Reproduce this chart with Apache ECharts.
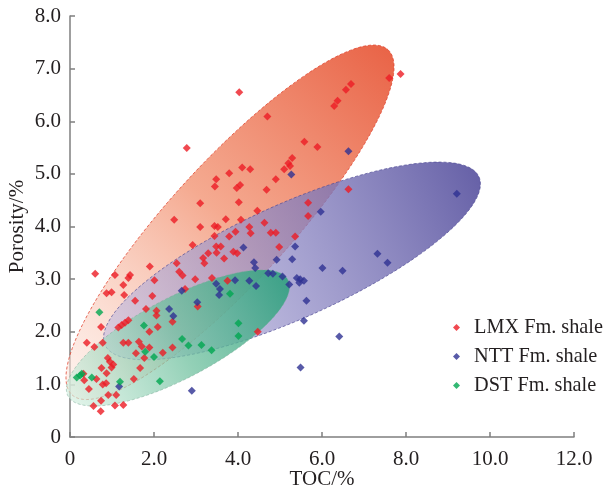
<!DOCTYPE html>
<html>
<head>
<meta charset="utf-8">
<script src="https://cdn.jsdelivr.net/npm/echarts@6/dist/echarts.min.js"></script>
<style>html,body{margin:0;padding:0;background:#fff;}#c{width:607px;height:494px;}</style>
</head>
<body>
<div id="c"></div>
<script>
// ---- data ----
const seriesNames = ['LMX Fm. shale', 'NTT Fm. shale', 'DST Fm. shale'];
const xTickLabels = ['0', '2.0', '4.0', '6.0', '8.0', '10.0', '12.0'];
const yTickLabels = ['0', '1.0', '2.0', '3.0', '4.0', '5.0', '6.0', '7.0', '8.0'];

const lmx = [
  [4.03,6.55],[2.78,5.49],[4.10,5.12],[4.29,5.09],[3.79,5.01],[3.48,4.90],[3.45,4.76],[4.05,4.79],
  [3.97,4.73],[3.10,4.44],[4.02,4.46],[4.46,4.30],[2.48,4.13],[3.71,4.14],[4.07,4.13],[4.70,6.09],
  [5.29,5.30],[5.20,5.20],[5.24,5.15],[5.10,5.09],[4.90,4.90],[4.68,4.70],[4.63,4.07],[3.10,3.99],
  [3.44,4.01],[3.52,3.99],[4.27,3.99],[3.94,3.90],[3.44,3.82],[3.79,3.81],[4.30,3.87],[4.78,3.88],
  [4.90,3.88],[2.92,3.65],[3.48,3.62],[3.59,3.62],[3.89,3.52],[3.98,3.49],[3.49,3.50],[3.29,3.49],
  [5.36,3.81],[3.17,3.40],[3.20,3.30],[3.67,3.39],[2.54,3.30],[2.68,3.07],[2.98,3.00],[3.38,3.02],
  [1.90,3.24],[0.60,3.10],[1.07,3.08],[1.43,3.08],[1.39,3.02],[2.60,3.14],[2.01,2.98],[1.27,2.89],
  [0.87,2.73],[0.99,2.75],[1.29,2.70],[1.55,2.59],[1.96,2.68],[3.75,2.97],[2.74,2.81],[1.81,2.43],
  [2.06,2.40],[2.06,2.31],[2.44,2.19],[3.04,2.48],[1.39,2.22],[1.31,2.17],[1.23,2.13],[1.15,2.08],
  [0.74,2.09],[1.89,2.00],[2.09,2.09],[0.40,1.79],[0.78,1.79],[0.58,1.71],[1.27,1.79],[1.39,1.79],
  [1.64,1.81],[1.71,1.72],[1.89,1.70],[1.57,1.59],[1.77,1.50],[2.21,1.60],[2.44,1.70],[0.90,1.50],
  [0.95,1.43],[1.03,1.38],[0.99,1.32],[0.75,1.31],[1.67,1.31],[0.87,1.21],[0.32,1.20],[0.63,1.10],
  [0.34,1.08],[1.52,1.10],[0.78,1.00],[0.86,1.02],[0.45,0.91],[0.91,0.80],[1.10,0.80],[0.74,0.69],
  [0.56,0.59],[1.07,0.60],[1.27,0.61],[0.73,0.49],[4.98,3.61],[5.67,4.20],[5.67,4.45],[4.47,2.00],
  [7.87,6.90],[7.60,6.82],[6.69,6.71],[6.57,6.60],[6.37,6.39],[6.29,6.29],[5.58,5.61],[5.89,5.51],
  [6.63,4.71]
];
const ntt = [
  [5.27,4.99],[6.63,5.43],[5.97,4.28],[4.13,3.60],[5.36,3.62],[4.38,3.32],[4.41,3.21],[4.92,3.37],
  [5.29,3.38],[4.72,3.11],[4.83,3.10],[5.06,3.05],[2.66,2.78],[3.03,2.56],[2.36,2.43],[2.46,2.30],
  [3.48,2.91],[3.57,2.81],[3.55,2.70],[1.17,0.96],[2.90,0.88],[3.93,2.98],[4.27,2.97],[4.43,2.87],
  [5.40,3.02],[5.48,3.00],[5.57,2.97],[5.46,2.93],[5.22,2.90],[6.01,3.21],[6.49,3.16],[7.32,3.48],
  [5.63,2.59],[5.57,2.21],[6.41,1.91],[7.56,3.31],[5.49,1.32],[9.21,4.62]
];
const dst = [
  [0.70,2.37],[1.76,2.12],[2.67,1.86],[2.82,1.74],[3.13,1.75],[3.37,1.65],[1.79,1.62],[2.00,1.52],
  [0.16,1.13],[0.24,1.17],[0.28,1.20],[0.52,1.13],[1.19,1.05],[2.14,1.06],[3.81,2.72],[4.01,2.16],
  [4.01,1.92]
];
// ellipse: [centerX, centerY, majorHalfX, majorHalfY, minorHalfX, minorHalfY] in data units
const lmxEllipse = [3.81, 4.08, 3.762, 3.279, 1.05, -0.77];
const nttEllipse = [5.286, 3.346, 4.452, 1.597, 0.557, -0.989];
const dstEllipse = [2.571, 1.882, 2.619, 1.103, 0.445, -0.675];

// ---- styles ----
const pointColors = ['#ec1c24', '#2e3192', '#00a650'];
const ellipseStyles = [
  {stops: [[0,'rgba(253,232,224,0.55)'],[0.5,'rgba(243,155,125,0.85)'],[1,'rgba(232,92,62,0.95)']], stroke:'rgba(225,70,50,0.8)'},
  {stops: [[0,'rgba(190,186,225,0.55)'],[0.5,'rgba(140,135,195,0.75)'],[1,'rgba(90,84,160,0.92)']], stroke:'rgba(80,75,150,0.7)'},
  {stops: [[0,'rgba(210,238,222,0.65)'],[0.5,'rgba(110,192,158,0.75)'],[1,'rgba(45,160,125,0.88)']], stroke:'rgba(120,170,150,0.5)'}
];

function ellipseSeries(name, params, style) {
  return {
    type: 'custom', name: name, silent: true, z: 1,
    data: [params],
    encode: {x: 0, y: 1},
    renderItem: function (p, api) {
      const cx = api.value(0), cy = api.value(1), ax = api.value(2), ay = api.value(3), bx = api.value(4), by = api.value(5);
      const pts = [];
      const n = 160;
      for (let i = 0; i < n; i++) {
        const t = i / n * Math.PI * 2;
        pts.push(api.coord([cx + ax * Math.cos(t) + bx * Math.sin(t), cy + ay * Math.cos(t) + by * Math.sin(t)]));
      }
      const p0 = api.coord([cx - ax, cy - ay]);
      const p1 = api.coord([cx + ax, cy + ay]);
      return {
        type: 'polygon',
        shape: {points: pts},
        style: {
          fill: {type: 'linear', x: p0[0], y: p0[1], x2: p1[0], y2: p1[1], global: true,
                 colorStops: style.stops.map(s => ({offset: s[0], color: s[1]}))},
          stroke: style.stroke, lineWidth: 1, lineDash: [3, 2]
        }
      };
    }
  };
}

const font = 'Liberation Serif';
const fs = 21;
const chart = echarts.init(document.getElementById('c'), null, {renderer: 'canvas'});
chart.setOption({
  animation: false,
  backgroundColor: '#fff',
  grid: {left: 70, right: 33, top: 16, bottom: 57, containLabel: false, outerBoundsMode: 'none'},
  xAxis: {
    type: 'value', min: 0, max: 12, interval: 2,
    name: 'TOC/%', nameLocation: 'middle', nameGap: 32, nameMoveOverlap: false,
    nameTextStyle: {fontFamily: font, fontSize: fs, color: '#231f20'},
    axisLine: {show: true, onZero: false, lineStyle: {color: '#7f7f7f', width: 1.5}},
    axisTick: {show: true, inside: true, length: 5, lineStyle: {color: '#7f7f7f', width: 1.5}},
    axisLabel: {fontFamily: font, fontSize: fs, color: '#231f20', margin: 12,
      formatter: v => xTickLabels[Math.round(v / 2)]},
    splitLine: {show: false}
  },
  yAxis: {
    type: 'value', min: 0, max: 8, interval: 1,
    name: 'Porosity/%', nameLocation: 'middle', nameGap: 42, nameMoveOverlap: false,
    nameTextStyle: {fontFamily: font, fontSize: fs, color: '#231f20'},
    axisLine: {show: true, onZero: false, lineStyle: {color: '#7f7f7f', width: 1.5}},
    axisTick: {show: true, inside: true, length: 5, lineStyle: {color: '#7f7f7f', width: 1.5}},
    axisLabel: {fontFamily: font, fontSize: fs, color: '#231f20', margin: 9,
      formatter: v => yTickLabels[Math.round(v)]},
    splitLine: {show: false}
  },
  legend: {
    orient: 'vertical', left: 448, top: 312,
    itemWidth: 7, itemHeight: 7, itemGap: 8,
    data: seriesNames.map(n => ({name: n, icon: 'diamond'})),
    textStyle: {fontFamily: font, fontSize: 20.3, color: '#231f20', lineHeight: 21, padding: [0, 0, 0, 9]}
  },
  series: [
    ellipseSeries('e1', lmxEllipse, ellipseStyles[0]),
    ellipseSeries('e2', nttEllipse, ellipseStyles[1]),
    ellipseSeries('e3', dstEllipse, ellipseStyles[2]),
    {type: 'scatter', name: seriesNames[0], data: lmx, symbol: 'diamond', symbolSize: 8, z: 3, itemStyle: {color: pointColors[0]}},
    {type: 'scatter', name: seriesNames[1], data: ntt, symbol: 'diamond', symbolSize: 8, z: 3, itemStyle: {color: pointColors[1]}},
    {type: 'scatter', name: seriesNames[2], data: dst, symbol: 'diamond', symbolSize: 8, z: 3, itemStyle: {color: pointColors[2]}}
  ]
});
</script>
</body>
</html>
